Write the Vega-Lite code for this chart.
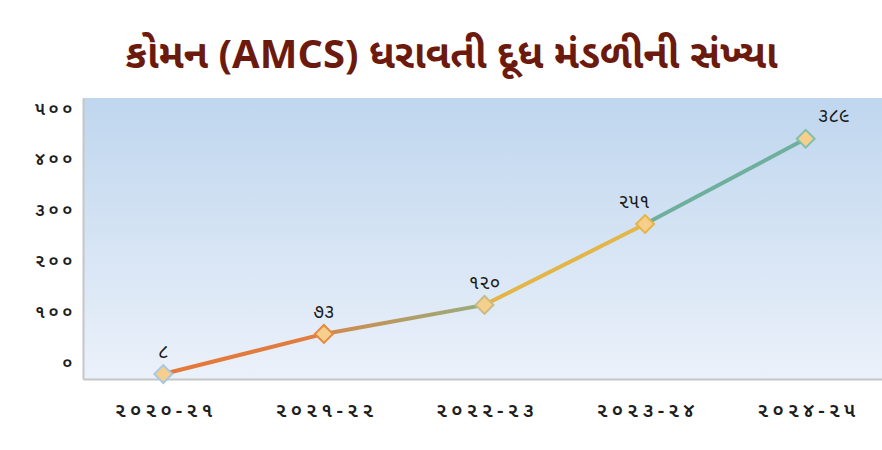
{
  "$schema": "https://vega.github.io/schema/vega-lite/v6.json",
  "width": 803,
  "height": 281,
  "autosize": "none",
  "padding": {"left": 83, "top": 98, "right": 0, "bottom": 71},
  "background": "white",
  "title": {
    "text": "કોમન (AMCS) ધરાવતી દૂધ મંડળીની સંખ્યા",
    "color": "#6B1A0D",
    "fontSize": 40,
    "fontWeight": "bold",
    "font": "Noto Sans Gujarati, sans-serif",
    "anchor": "middle",
    "dx": -33,
    "offset": 22
  },
  "config": {
    "view": {
      "stroke": null,
      "fill": {"expr": "{gradient: 'linear', x1: 0, y1: 0, x2: 0, y2: 1, stops: [{offset: 0, color: '#BFD6EE'}, {offset: 1, color: '#EBF1FA'}]}"}
    },
    "font": "Noto Sans Gujarati, sans-serif"
  },
  "data": {
    "values": [
      {"year": "૨૦૨૦-૨૧", "count": 8, "label": "૮"},
      {"year": "૨૦૨૧-૨૨", "count": 73, "label": "૭૩"},
      {"year": "૨૦૨૨-૨૩", "count": 120, "label": "૧૨૦"},
      {"year": "૨૦૨૩-૨૪", "count": 251, "label": "૨૫૧"},
      {"year": "૨૦૨૪-૨૫", "count": 389, "label": "૩૮૯"}
    ]
  },
  "layer": [
    {
      "data": {"values": [{"tick": 0}, {"tick": 100}, {"tick": 200}, {"tick": 300}, {"tick": 400}, {"tick": 500}]},
      "mark": {"type": "point", "opacity": 0},
      "encoding": {
        "y": {
          "field": "tick",
          "type": "quantitative",
          "scale": {"domain": [-31, 522], "nice": false, "zero": false},
          "axis": {
            "values": [0, 100, 200, 300, 400, 500],
            "labelExpr": "join(split(replace(replace(replace(replace(replace(replace(datum.label, regexp('0', 'g'), '૦'), '1', '૧'), '2', '૨'), '3', '૩'), '4', '૪'), '5', '૫'), ''), '\u2009')",
            "grid": false,
            "ticks": false,
            "domainColor": "#C6C6C6",
            "domainWidth": 2,
            "labelFontSize": 18,
            "labelPadding": 11,
            "labelColor": "#1E1E1E",
            "labelFontWeight": 600,
            "title": null
          }
        }
      }
    },
    {
      "encoding": {
        "x": {
          "field": "year",
          "type": "ordinal",
          "sort": null,
          "scale": {"type": "point", "padding": 0.5},
          "axis": {
            "title": null,
            "labelAngle": 0,
            "ticks": false,
            "domainColor": "#C6C6C6",
            "domainWidth": 2,
            "labelExpr": "join(split(datum.label, ''), '\u2009')",
            "labelFontSize": 20,
            "labelFontWeight": 600,
            "labelPadding": 21,
            "labelColor": "#1E1E1E"
          }
        },
        "y": {
          "field": "count",
          "type": "quantitative",
          "scale": {"domain": [0, 455], "nice": false, "zero": false},
          "axis": null
        }
      },
      "layer": [
        {
          "mark": {
            "type": "line",
            "strokeWidth": 4,
            "clip": false,
            "color": {
              "gradient": "linear",
              "x1": 0, "y1": 0, "x2": 1, "y2": 0,
              "stops": [
                {"offset": 0, "color": "#E5773A"},
                {"offset": 0.25, "color": "#E07D3E"},
                {"offset": 0.2501, "color": "#D3894C"},
                {"offset": 0.5, "color": "#95AE7E"},
                {"offset": 0.5001, "color": "#E4B447"},
                {"offset": 0.75, "color": "#E2B649"},
                {"offset": 0.7501, "color": "#6DAE9C"},
                {"offset": 1, "color": "#6FAF9E"}
              ]
            }
          }
        },
        {
          "mark": {"type": "point", "shape": "diamond", "filled": true, "fill": "#F6CF8D", "size": 320, "strokeWidth": 2, "opacity": 1, "clip": false},
          "encoding": {
            "stroke": {
              "field": "year",
              "type": "nominal",
              "sort": null,
              "scale": {"range": ["#A8C8E2", "#E8873F", "#C8BC84", "#E6B445", "#84BEAC"]},
              "legend": null
            }
          }
        },
        {
          "transform": [{"filter": "datum.count < 200"}],
          "mark": {"type": "text", "dy": -22, "fontSize": 19, "color": "#1A1A1A", "baseline": "middle"},
          "encoding": {"text": {"field": "label"}}
        },
        {
          "transform": [{"filter": "datum.count == 251"}],
          "mark": {"type": "text", "dy": -22, "dx": -11, "fontSize": 19, "color": "#1A1A1A", "baseline": "middle"},
          "encoding": {"text": {"field": "label"}}
        },
        {
          "transform": [{"filter": "datum.count == 389"}],
          "mark": {"type": "text", "dy": -23, "dx": 28, "fontSize": 19, "color": "#1A1A1A", "baseline": "middle"},
          "encoding": {"text": {"field": "label"}}
        }
      ]
    }
  ],
  "resolve": {"scale": {"y": "independent"}, "axis": {"y": "independent"}}
}
